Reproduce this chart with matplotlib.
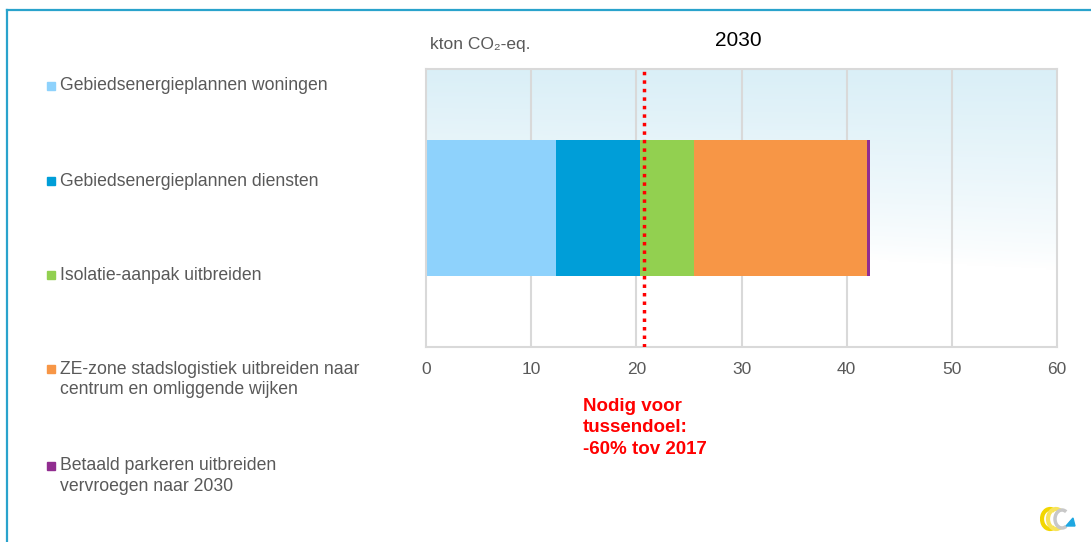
import numpy as np
import matplotlib.pyplot as plt
from matplotlib.patches import Rectangle, Arc, Polygon
from matplotlib.lines import Line2D

# Data
measures = [
    'Gebiedsenergieplannen woningen',
    'Gebiedsenergieplannen diensten',
    'Isolatie-aanpak uitbreiden',
    'ZE-zone stadslogistiek uitbreiden naar\ncentrum en omliggende wijken',
    'Betaald parkeren uitbreiden\nvervroegen naar 2030',
]
reductions = [12.4, 7.95, 5.1, 16.5, 0.3]
colors = ['#8ed2fc', '#009ed8', '#92d050', '#f79646', '#912d90']
target = 20.75
x_ticks = [0, 10, 20, 30, 40, 50, 60]
year_label = '2030'
target_label = 'Nodig voor\ntussendoel:\n-60% tov 2017'

W, H = 1091, 542
plt.rcParams['font.family'] = ['Liberation Sans', 'DejaVu Sans']
grey_text = '#595959'
grid_col = '#d9d9d9'


def fx(px):
    return px / W


def fy(py):
    return 1 - py / H


fig = plt.figure(figsize=(W / 100, H / 100), dpi=100)

# Frame lines (top and left)
fig.add_artist(Line2D([fx(7), 1.0], [fy(9.5), fy(9.5)], color='#2aa3cc', lw=1.6))
fig.add_artist(Line2D([fx(7), fx(7)], [fy(9.5), 0.0], color='#2aa3cc', lw=1.6))

# Plot area
left, right, top, bottom = 426, 1057, 69, 347
ax = fig.add_axes([fx(left), fy(bottom), fx(right - left), (bottom - top) / H])
ax.set_xlim(0, 60)
ax.set_ylim(-0.5, 0.5)

# Gradient background: light blue at the top fading to white
ny, nx = 200, 200
yy, xx = np.mgrid[0:1:ny * 1j, 0:1:nx * 1j]
fade = np.clip(1 - yy / (0.6 + 0.12 * xx), 0, 1) ** 0.8
top_rgb = np.array([0.855, 0.937, 0.969])
img = np.ones((ny, nx, 3)) * (1 - fade[..., None]) + top_rgb * fade[..., None]
ax.imshow(img, extent=(0, 60, -0.5, 0.5), origin='upper', aspect='auto', zorder=0)

# Grid
for xt in x_ticks[1:-1]:
    ax.axvline(xt, color=grid_col, lw=1.5, zorder=1)

# Stacked bar
lefts = np.concatenate([[0], np.cumsum(reductions)[:-1]])
for val, lft, col in zip(reductions, lefts, colors):
    ax.barh(0, val, left=lft, height=0.49, color=col, edgecolor='none', zorder=2)

# Target line
ax.axvline(target, color='#ff0000', lw=2.5, linestyle=(0, (1, 1.45)), zorder=3)

for side in ['top', 'bottom', 'left', 'right']:
    ax.spines[side].set_color(grid_col)
    ax.spines[side].set_linewidth(1.5)
ax.set_xticks(x_ticks)
ax.set_xticklabels([str(t) for t in x_ticks])
ax.tick_params(axis='x', length=0, pad=11, labelsize=12.5, labelcolor=grey_text)
ax.set_yticks([])

# Title and unit
fig.text(fx(738), fy(40), year_label, ha='center', va='center', fontsize=15, color='black')
fig.text(fx(430), fy(45), 'kton CO\u2082-eq.', ha='left', va='center', fontsize=12.5,
         color=grey_text)

# Target annotation
fig.text(fx(583), fy(428), target_label, ha='left', va='center', fontsize=13.5,
         fontweight='bold', color='#ff0000', linespacing=1.33)

# Legend (manual, left column)
legend_y = [86, 181, 275, 369, 466]
for label, col, ly in zip(measures, colors, legend_y):
    fig.add_artist(Rectangle((fx(47), fy(ly + 4)), fx(8), 8 / H, color=col,
                             transform=fig.transFigure))
    for i, line in enumerate(label.split('\n')):
        fig.text(fx(60), fy(ly + i * 20.5), line, ha='left', va='center',
                 fontsize=12.7, color=grey_text)

# Small logo bottom right
lax = fig.add_axes([fx(1040), fy(533), fx(36), 28 / H])
lax.set_xlim(0, 36)
lax.set_ylim(0, 28)
lax.axis('off')
lax.add_patch(Arc((10, 14), 16, 20, theta1=60, theta2=300, color='#f2d600', lw=3))
lax.add_patch(Arc((16, 14), 16, 20, theta1=60, theta2=300, color='#f7e35a', lw=3))
lax.add_patch(Arc((22, 14), 14, 18, theta1=60, theta2=300, color='#c8c8c8', lw=2.5))
lax.add_patch(Polygon([[26, 7], [35, 7], [33, 15]], color='#1ea7e1'))

fig.savefig('out.png', dpi=100)
